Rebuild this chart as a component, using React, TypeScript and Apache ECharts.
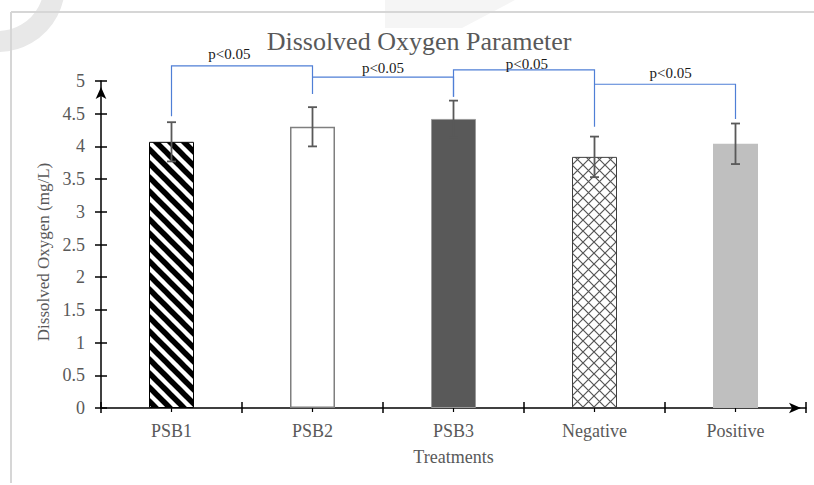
import React, { useEffect, useRef } from "react";
import * as echarts from "echarts";

// ---- data ----
const categories = ["PSB1", "PSB2", "PSB3", "Negative", "Positive"];
const meanValues = [4.07, 4.3, 4.42, 3.84, 4.04];
const errorValues = [0.3, 0.3, 0.28, 0.31, 0.31];

// significance brackets (category indices, value levels)
const bracketFrom = [0, 1, 2, 3];
const bracketTo = [1, 2, 3, 4];
const bracketLevel = [5.23, 5.06, 5.17, 4.95];
const bracketLeftEnd = [4.46, 5.06, 4.76, 4.95];
const bracketRightEnd = [4.8, 4.76, 4.3, 4.42];
const bracketLabels = ["p<0.05", "p<0.05", "p<0.05", "p<0.05"];
const bracketLabelT = [0.41, 0.5, 0.52, 0.54];
const bracketLabelY = [5.41, 5.2, 5.26, 5.12];

const FONT = "'Liberation Serif', 'Times New Roman', serif";
const GRAY_TEXT = "#595959";

function makeStripePattern() {
  const s = 14;
  const c = document.createElement("canvas");
  c.width = s;
  c.height = s;
  const g = c.getContext("2d")!;
  g.fillStyle = "#ffffff";
  g.fillRect(0, 0, s, s);
  g.strokeStyle = "#000000";
  g.lineWidth = 5.5;
  for (const off of [-s, 0, s]) {
    g.beginPath();
    g.moveTo(off - 3, -3);
    g.lineTo(off + s + 3, s + 3);
    g.stroke();
  }
  return { image: c, repeat: "repeat", imageWidth: s, imageHeight: s } as any;
}

function makeCrossPattern() {
  const s = 11;
  const c = document.createElement("canvas");
  c.width = s;
  c.height = s;
  const g = c.getContext("2d")!;
  g.fillStyle = "#ffffff";
  g.fillRect(0, 0, s, s);
  g.strokeStyle = "#555555";
  g.lineWidth = 1.2;
  g.beginPath();
  g.moveTo(0, 0);
  g.lineTo(s, s);
  g.moveTo(s, 0);
  g.lineTo(0, s);
  g.stroke();
  return { image: c, repeat: "repeat", imageWidth: s, imageHeight: s } as any;
}

export default function App() {
  const ref = useRef<HTMLDivElement>(null);

  useEffect(() => {
    if (!ref.current) return;
    const chart = echarts.init(ref.current, undefined, { renderer: "svg" });

    const barStyles = [
      { color: makeStripePattern(), borderColor: "#000000", borderWidth: 1 },
      { color: "#ffffff", borderColor: "#7f7f7f", borderWidth: 1.5 },
      { color: "#595959", borderColor: "#9a9a9a", borderWidth: 1 },
      { color: makeCrossPattern(), borderColor: "#404040", borderWidth: 1 },
      { color: "#bfbfbf", borderWidth: 0 },
    ];

    const barData = meanValues.map((v, i) => ({ value: v, itemStyle: barStyles[i] }));
    const errData = meanValues.map((v, i) => [i, v - errorValues[i], v + errorValues[i]]);
    const bracketData = bracketFrom.map((f, i) => [
      f,
      bracketTo[i],
      bracketLevel[i],
      bracketLeftEnd[i],
      bracketRightEnd[i],
      bracketLabelT[i],
      bracketLabelY[i],
    ]);

    const axisLineStyle = { color: "#000000", width: 1.5 };

    const option: any = {
      animation: false,
      backgroundColor: "#ffffff",
      title: {
        text: "Dissolved Oxygen Parameter",
        left: 419,
        top: 28,
        padding: 0,
        textAlign: "center",
        textStyle: { fontFamily: FONT, fontSize: 26, fontWeight: "normal", color: GRAY_TEXT },
      },
      graphic: [
        {
          type: "arc",
          z: -10,
          shape: { cx: -2, cy: -15, r: 56.5, startAngle: 0, endAngle: Math.PI * 2 },
          style: { stroke: "#e8e8e8", lineWidth: 21, fill: "none" },
        },
        {
          type: "polygon",
          z: -10,
          shape: { points: [[385, 0], [515, 0], [462, 28], [385, 28]] },
          style: { fill: "#f5f5f5" },
        },
        {
          type: "line",
          z: -5,
          shape: { x1: 11, y1: 12, x2: 814, y2: 12 },
          style: { stroke: "#d6d6d6", lineWidth: 2 },
        },
        {
          type: "line",
          z: -5,
          shape: { x1: 11, y1: 12, x2: 11, y2: 483 },
          style: { stroke: "#d6d6d6", lineWidth: 2 },
        },
      ],
      grid: { left: 101, right: 8, top: 81, bottom: 77, containLabel: false },
      xAxis: [
        {
          type: "category",
          data: categories,
          position: "bottom",
          name: "Treatments",
          nameLocation: "middle",
          nameGap: 40,
          nameTextStyle: { fontFamily: FONT, fontSize: 18, color: GRAY_TEXT },
          axisLine: {
            show: true,
            lineStyle: axisLineStyle,
            symbol: ["none", "arrow"],
            symbolSize: [8, 12],
            symbolOffset: [0, -5],
          },
          axisTick: { show: true, length: 5, lineStyle: axisLineStyle },
          axisLabel: { fontFamily: FONT, fontSize: 18, color: GRAY_TEXT, margin: 14 },
          splitLine: { show: false },
        },
        {
          type: "category",
          data: categories,
          position: "bottom",
          axisLine: { show: false },
          axisTick: { show: true, inside: true, length: 6, lineStyle: axisLineStyle },
          axisLabel: { show: false },
          splitLine: { show: false },
        },
        {
          type: "category",
          data: categories,
          position: "bottom",
          axisLine: { show: false },
          axisTick: { show: true, alignWithLabel: true, length: 4, lineStyle: { color: "#000", width: 1.2 } },
          axisLabel: { show: false },
          splitLine: { show: false },
        },
      ],
      yAxis: [
        {
          type: "value",
          min: 0,
          max: 5,
          interval: 0.5,
          position: "left",
          name: "Dissolved Oxygen (mg/L)",
          nameLocation: "middle",
          nameGap: 48,
          nameTextStyle: { fontFamily: FONT, fontSize: 17, color: GRAY_TEXT, padding: [0, 15, 0, 0] },
          axisLine: {
            show: true,
            lineStyle: axisLineStyle,
            symbol: ["none", "arrow"],
            symbolSize: [8, 12],
            symbolOffset: [0, -6],
          },
          axisTick: { show: true, length: 6, lineStyle: axisLineStyle },
          axisLabel: { fontFamily: FONT, fontSize: 18, color: GRAY_TEXT, margin: 16 },
          splitLine: { show: false },
        },
        {
          type: "value",
          min: 0,
          max: 5,
          interval: 0.5,
          position: "left",
          axisLine: { show: false },
          axisTick: { show: true, inside: true, length: 6, lineStyle: axisLineStyle },
          axisLabel: { show: false },
          splitLine: { show: false },
        },
      ],
      series: [
        {
          type: "bar",
          xAxisIndex: 0,
          yAxisIndex: 0,
          barWidth: 45,
          data: barData,
          z: 2,
        },
        {
          type: "custom",
          xAxisIndex: 0,
          yAxisIndex: 0,
          z: 3,
          data: errData,
          encode: { x: 0, y: [1, 2] },
          renderItem: (params: any, api: any) => {
            const x = api.value(0);
            const lo = api.coord([x, api.value(1)]);
            const hi = api.coord([x, api.value(2)]);
            const cap = 4.5;
            const st = { stroke: "#595959", lineWidth: 1.8 };
            return {
              type: "group",
              children: [
                { type: "line", shape: { x1: lo[0], y1: lo[1], x2: hi[0], y2: hi[1] }, style: st },
                { type: "line", shape: { x1: lo[0] - cap, y1: lo[1], x2: lo[0] + cap, y2: lo[1] }, style: st },
                { type: "line", shape: { x1: hi[0] - cap, y1: hi[1], x2: hi[0] + cap, y2: hi[1] }, style: st },
              ],
            };
          },
        },
        {
          type: "custom",
          xAxisIndex: 0,
          yAxisIndex: 0,
          z: 4,
          clip: false,
          data: bracketData,
          encode: { x: 0, y: 2 },
          renderItem: (params: any, api: any) => {
            const f = api.value(0);
            const t = api.value(1);
            const level = api.value(2);
            const pL = api.coord([f, level]);
            const pR = api.coord([t, level]);
            const lEnd = api.coord([f, api.value(3)]);
            const rEnd = api.coord([t, api.value(4)]);
            const lt = api.value(5);
            const ly = api.coord([f, api.value(6)])[1];
            const lx = pL[0] + lt * (pR[0] - pL[0]);
            const st = { stroke: "#4f7fd6", lineWidth: 1.2, fill: "none" };
            return {
              type: "group",
              children: [
                {
                  type: "polyline",
                  shape: { points: [[lEnd[0], lEnd[1]], [pL[0], pL[1]], [pR[0], pR[1]], [rEnd[0], rEnd[1]]] },
                  style: st,
                },
                {
                  type: "text",
                  x: lx,
                  y: ly,
                  style: {
                    text: bracketLabels[params.dataIndex],
                    fill: "#1a1a1a",
                    font: `15px ${FONT}`,
                    align: "center",
                    verticalAlign: "middle",
                  },
                },
              ],
            };
          },
        },
      ],
    };

    chart.setOption(option);
    return () => chart.dispose();
  }, []);

  return (
    <div
      ref={ref}
      style={{ position: "fixed", left: 0, top: 0, width: 814, height: 485, background: "#fff" }}
    />
  );
}
